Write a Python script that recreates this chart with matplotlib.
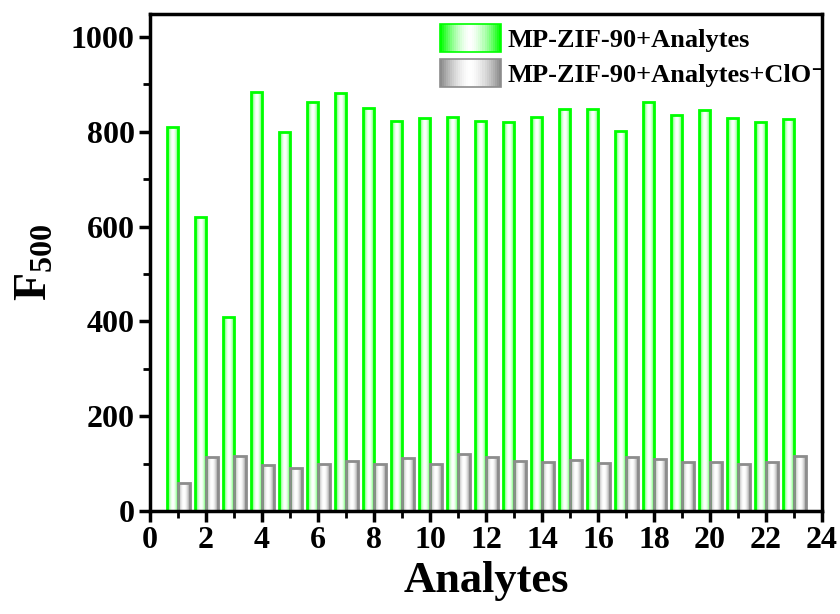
import numpy as np
import matplotlib
matplotlib.use('Agg')
import matplotlib.pyplot as plt
from matplotlib.patches import Rectangle
from matplotlib.legend_handler import HandlerBase
from matplotlib.colors import to_rgb

plt.rcParams['font.family'] = ['Liberation Serif', 'DejaVu Serif']
plt.rcParams['font.weight'] = 'bold'
plt.rcParams['mathtext.fontset'] = 'custom'
plt.rcParams['mathtext.bf'] = 'Liberation Serif:bold'
plt.rcParams['mathtext.rm'] = 'Liberation Serif:bold'

analytes = np.arange(1, 24)
f_analytes = [810, 620, 410, 884, 800, 863, 882, 850, 823, 829, 832, 823,
              820, 830, 847, 848, 802, 862, 835, 846, 828, 820, 827]
f_clo = [60, 113, 115, 96, 90, 100, 105, 100, 112, 100, 120, 113,
         105, 103, 108, 101, 113, 110, 104, 103, 100, 103, 116]
labels = ['MP-ZIF-90+Analytes', 'MP-ZIF-90+Analytes+ClO\u207b']

GREEN = '#00ff00'
GRAY = '#8c8c8c'


def gradient_img(color, n=64, p=2.0):
    t = np.linspace(0, 1, n)
    f = np.abs(2 * t - 1) ** p
    c = np.array(to_rgb(color))
    row = 1 - f[:, None] * (1 - c[None, :])
    return row[None, :, :]


def fill_gradient(ax, bars, color):
    img = gradient_img(color)
    for b in bars:
        x, y = b.get_x(), b.get_y()
        w, h = b.get_width(), b.get_height()
        im = ax.imshow(img, extent=[x, x + w, y, y + h], aspect='auto',
                       interpolation='bilinear', zorder=1)
        im.set_clip_path(b)


class GradientHandler(HandlerBase):
    def __init__(self, color):
        super().__init__()
        self.color = color

    def create_artists(self, legend, orig_handle, xdescent, ydescent,
                       width, height, fontsize, trans):
        n = 30
        cols = gradient_img(self.color, n=n, p=1.6)[0]
        arts = []
        for i in range(n):
            r = Rectangle((-xdescent + i * width / n, -ydescent), width / n + 0.3, height,
                          facecolor=cols[i], edgecolor='none', transform=trans)
            arts.append(r)
        arts.append(Rectangle((-xdescent, -ydescent), width, height, facecolor='none',
                              edgecolor=self.color, lw=1.2, transform=trans))
        return arts


fig = plt.figure(figsize=(8.4, 6.14), dpi=100)
ax = fig.add_axes([0.1786, 0.1678, 0.8, 0.8092])

w = 0.42
b1 = ax.bar(analytes - 0.2, f_analytes, width=w, facecolor='none',
            edgecolor=GREEN, linewidth=2, zorder=2)
b2 = ax.bar(analytes + 0.21, f_clo, width=w, facecolor='none',
            edgecolor=GRAY, linewidth=2, zorder=2)
fill_gradient(ax, b1, GREEN)
fill_gradient(ax, b2, GRAY)

ax.set_xlim(0, 24)
ax.set_ylim(0, 1048)
ax.set_xticks(np.arange(0, 25, 2))
ax.set_xticks(np.arange(1, 24, 2), minor=True)
ax.set_yticks(np.arange(0, 1001, 200))
ax.set_yticks(np.arange(100, 1001, 200), minor=True)
ax.tick_params(which='major', direction='out', length=8, width=2.5,
               labelsize=23, pad=3)
ax.tick_params(which='minor', direction='out', length=5, width=2)
for s in ax.spines.values():
    s.set_linewidth(2.5)
for lab in ax.get_xticklabels() + ax.get_yticklabels():
    lab.set_fontweight('bold')

ax.set_xlabel('Analytes', fontsize=32, fontweight='bold', labelpad=4)
ax.set_ylabel(r'$\mathbf{F_{500}}$', fontsize=33, labelpad=10)

h1 = Rectangle((0, 0), 1, 1)
h2 = Rectangle((0, 0), 1, 1)
leg = ax.legend([h1, h2], labels,
                handler_map={h1: GradientHandler(GREEN), h2: GradientHandler(GRAY)},
                loc='upper left', bbox_to_anchor=(0.4315, 0.98), borderaxespad=0,
                prop={'weight': 'bold', 'size': 19},
                handlelength=2.3, handleheight=1.25, handletextpad=0.25,
                labelspacing=0.28, frameon=False, borderpad=0)

fig.savefig('out.png', dpi=100)
